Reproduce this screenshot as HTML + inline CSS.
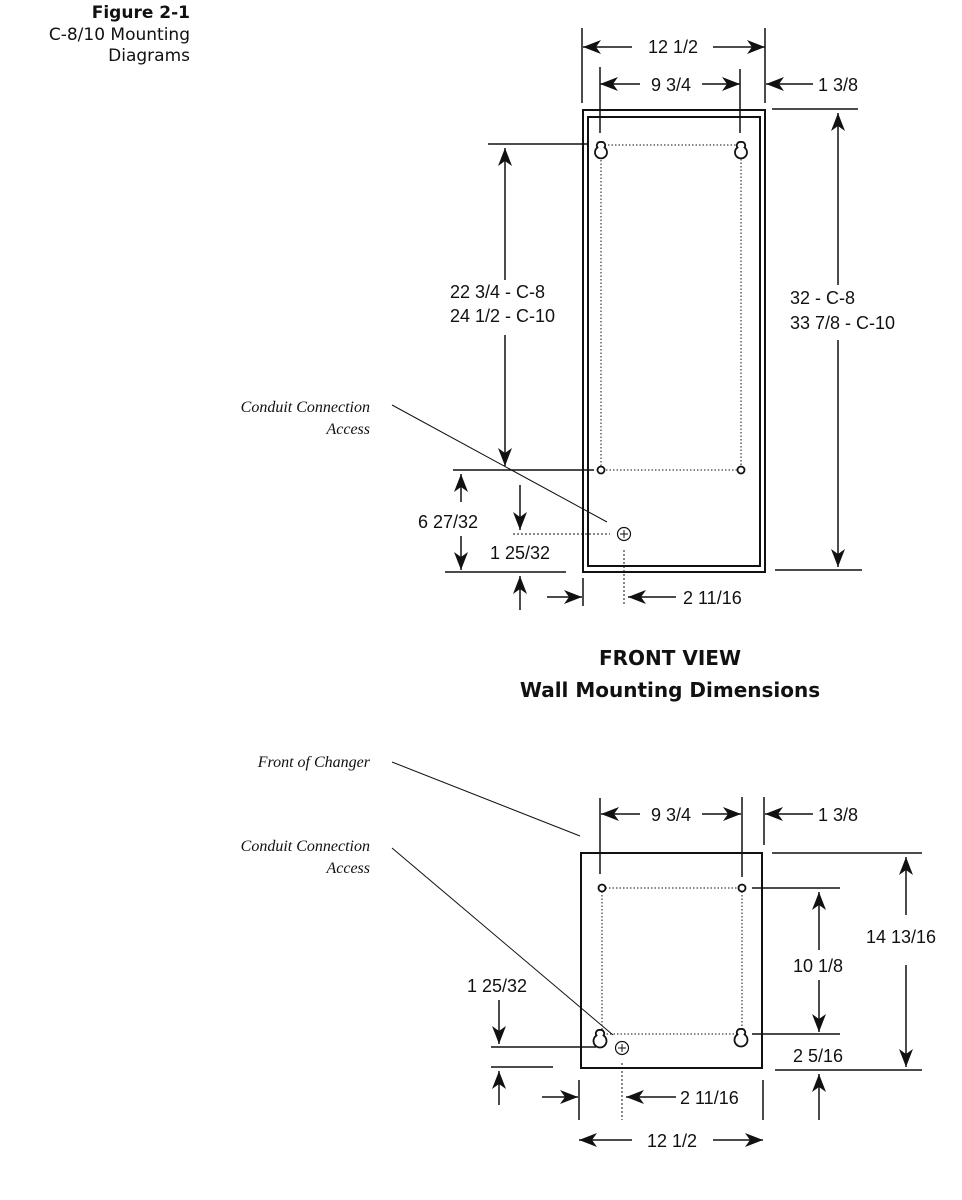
<!DOCTYPE html>
<html><head><meta charset="utf-8"><style>
body{margin:0;background:#fff;width:962px;height:1200px;overflow:hidden}
svg{display:block}
.d{font-family:"Liberation Sans",sans-serif;font-size:18px;fill:#111}
.i{font-family:"Liberation Serif",serif;font-style:italic;font-size:16px;fill:#111}
.h{font-family:"DejaVu Sans",sans-serif;font-size:17px;fill:#111}
.t{font-family:"DejaVu Sans",sans-serif;font-weight:bold;font-size:20px;fill:#111}
</style></head><body>
<svg width="962" height="1200" viewBox="0 0 962 1200" xmlns="http://www.w3.org/2000/svg">
<defs>
<marker id="a" viewBox="0 0 18 14" refX="18" refY="7" markerWidth="18" markerHeight="14" markerUnits="userSpaceOnUse" orient="auto">
<path d="M0,0 L18,7 L0,14 L5,7 Z" fill="#111"/></marker>
</defs>
<text class="h" x="190" y="18" text-anchor="end" font-weight="bold">Figure 2-1</text>
<text class="h" x="190" y="40" text-anchor="end">C-8/10 Mounting</text>
<text class="h" x="190" y="61" text-anchor="end">Diagrams</text>

<!-- TOP VIEW -->
<g stroke="#111" fill="none">
<rect x="583" y="110" width="182" height="462" stroke-width="2"/>
<rect x="588" y="117" width="172" height="449" stroke-width="2"/>
<rect x="601" y="145" width="140" height="325" stroke-width="1" stroke-dasharray="1.5,2"/>
<circle cx="601" cy="470" r="3.5" stroke-width="1.8" fill="#fff"/>
<circle cx="741" cy="470" r="3.5" stroke-width="1.8" fill="#fff"/>
<path d="M601,142 a3.5,3.5 0 0 1 3.5,5.5 a6,6 0 1 1 -7,0 a3.5,3.5 0 0 1 3.5,-5.5 z" stroke-width="1.8" fill="#fff"/>
<path d="M741,142 a3.5,3.5 0 0 1 3.5,5.5 a6,6 0 1 1 -7,0 a3.5,3.5 0 0 1 3.5,-5.5 z" stroke-width="1.8" fill="#fff"/>
<circle cx="624" cy="534" r="6.5" stroke-width="1.2"/>
<path d="M624,530v8M620,534h8" stroke-width="1"/>
<g stroke-width="1.5">
<path d="M582,28v75M765,28v75M600,67v66M740,69v64"/>
<path d="M632,47H583" marker-end="url(#a)"/><path d="M713,47H765" marker-end="url(#a)"/>
<path d="M640,84H600" marker-end="url(#a)"/><path d="M702,84H740" marker-end="url(#a)"/>
<path d="M813,84H766" marker-end="url(#a)"/>
<path d="M772,109H858M775,570H862"/>
<path d="M838,285V113" marker-end="url(#a)"/><path d="M838,340V567" marker-end="url(#a)"/>
<path d="M488,144H588M453,470H594"/>
<path d="M505,280V148" marker-end="url(#a)"/><path d="M505,335V466" marker-end="url(#a)"/>
<path d="M392,405L607,522" stroke-width="1"/>
<path d="M461,502V474" marker-end="url(#a)"/><path d="M461,536V570" marker-end="url(#a)"/>
<path d="M445,572H566"/>
<path d="M520,485V530" marker-end="url(#a)"/>
<path d="M513,534H610" stroke-width="1" stroke-dasharray="2,2"/>
<path d="M520,610V576" marker-end="url(#a)"/>
<path d="M547,597H582" marker-end="url(#a)"/><path d="M583,578V606"/>
<path d="M624,550V606" stroke-width="1" stroke-dasharray="2,2"/>
<path d="M676,597H628" marker-end="url(#a)"/>
</g></g>
<text class="d" x="673" y="53" text-anchor="middle">12 1/2</text>
<text class="d" x="671" y="91" text-anchor="middle">9 3/4</text>
<text class="d" x="818" y="91">1 3/8</text>
<text class="d" x="790" y="304">32 - C-8</text>
<text class="d" x="790" y="329">33 7/8 - C-10</text>
<text class="d" x="450" y="298">22 3/4 - C-8</text>
<text class="d" x="450" y="322">24 1/2 - C-10</text>
<text class="i" x="370" y="412" text-anchor="end">Conduit Connection</text>
<text class="i" x="370" y="434" text-anchor="end">Access</text>
<text class="d" x="418" y="528">6 27/32</text>
<text class="d" x="490" y="559">1 25/32</text>
<text class="d" x="683" y="604">2 11/16</text>

<text class="t" x="670" y="665" text-anchor="middle">FRONT VIEW</text>
<text class="t" x="670" y="697" text-anchor="middle">Wall Mounting Dimensions</text>

<!-- BOTTOM VIEW -->
<g stroke="#111" fill="none">
<rect x="581" y="853" width="181" height="215" stroke-width="2"/>
<rect x="602" y="888" width="140" height="146" stroke-width="1" stroke-dasharray="1.5,2"/>
<circle cx="602" cy="888" r="3.5" stroke-width="1.8" fill="#fff"/>
<circle cx="742" cy="888" r="3.5" stroke-width="1.8" fill="#fff"/>
<path d="M600,1030 a3.5,3.5 0 0 1 3.5,5.5 a6.5,6.5 0 1 1 -7,0 a3.5,3.5 0 0 1 3.5,-5.5 z" stroke-width="1.8" fill="#fff"/>
<path d="M741,1029 a3.5,3.5 0 0 1 3.5,5.5 a6.5,6.5 0 1 1 -7,0 a3.5,3.5 0 0 1 3.5,-5.5 z" stroke-width="1.8" fill="#fff"/>
<circle cx="622" cy="1048" r="6.5" stroke-width="1.2"/>
<path d="M622,1044v8M618,1048h8" stroke-width="1"/>
<g stroke-width="1.5">
<path d="M392,762L580,836M392,848L613,1035" stroke-width="1"/>
<path d="M600,798v76M742,797v80M764,797v48"/>
<path d="M640,814H601" marker-end="url(#a)"/><path d="M702,814H741" marker-end="url(#a)"/>
<path d="M813,814H765" marker-end="url(#a)"/>
<path d="M772,853H922M775,1070H922"/>
<path d="M906,915V857" marker-end="url(#a)"/><path d="M906,965V1067" marker-end="url(#a)"/>
<path d="M752,888H840M752,1034H840"/>
<path d="M819,950V892" marker-end="url(#a)"/><path d="M819,980V1032" marker-end="url(#a)"/>
<path d="M819,1120V1074" marker-end="url(#a)"/>
<path d="M499,1000V1044" marker-end="url(#a)"/>
<path d="M491,1047H596M491,1067H553"/>
<path d="M499,1105V1071" marker-end="url(#a)"/>
<path d="M542,1097H578" marker-end="url(#a)"/><path d="M579,1080V1120"/>
<path d="M622,1063V1120" stroke-width="1" stroke-dasharray="2,2"/>
<path d="M676,1097H626" marker-end="url(#a)"/><path d="M763,1080V1120"/>
<path d="M632,1140H579" marker-end="url(#a)"/><path d="M713,1140H763" marker-end="url(#a)"/>
</g></g>
<text class="i" x="370" y="767" text-anchor="end">Front of Changer</text>
<text class="i" x="370" y="851" text-anchor="end">Conduit Connection</text>
<text class="i" x="370" y="873" text-anchor="end">Access</text>
<text class="d" x="671" y="821" text-anchor="middle">9 3/4</text>
<text class="d" x="818" y="821">1 3/8</text>
<text class="d" x="866" y="943">14 13/16</text>
<text class="d" x="793" y="972">10 1/8</text>
<text class="d" x="793" y="1062">2 5/16</text>
<text class="d" x="467" y="992">1 25/32</text>
<text class="d" x="680" y="1104">2 11/16</text>
<text class="d" x="672" y="1147" text-anchor="middle">12 1/2</text>
</svg>
</body></html>
